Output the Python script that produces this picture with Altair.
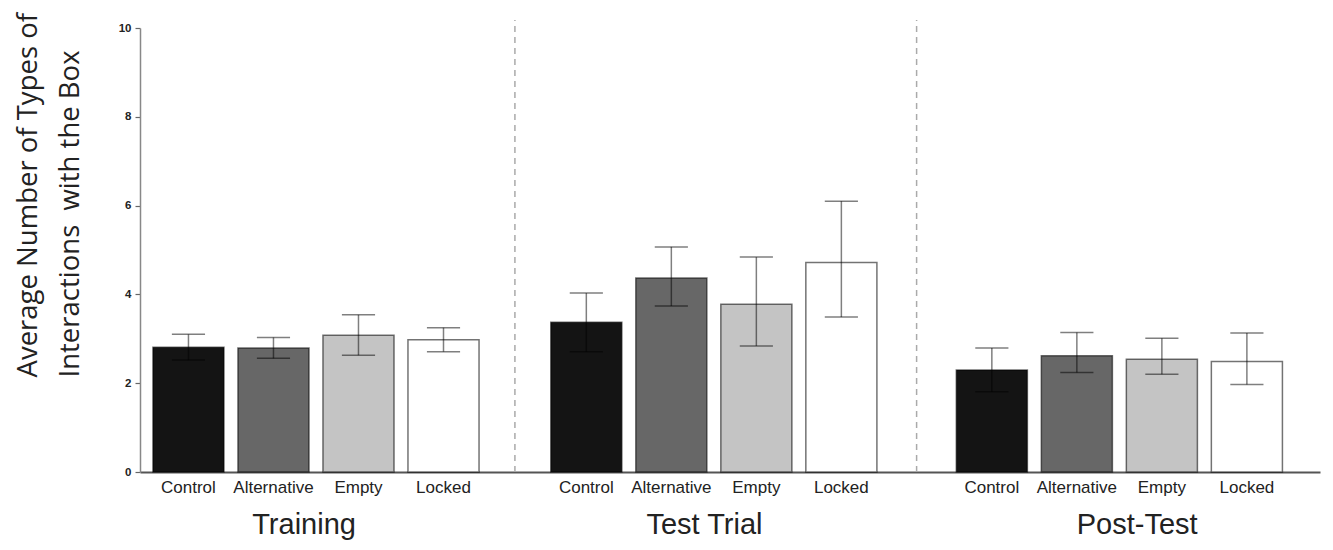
import altair as alt
import pandas as pd

# ---- data ----
phases = ["Training", "Test Trial", "Post-Test"]
conditions = ["Control", "Alternative", "Empty", "Locked"]

mean_training = [2.81, 2.79, 3.08, 2.98]
mean_test = [3.37, 4.37, 3.78, 4.72]
mean_post = [2.30, 2.62, 2.54, 2.49]

hi_training = [3.10, 3.03, 3.54, 3.25]
lo_training = [2.52, 2.56, 2.63, 2.71]
hi_test = [4.03, 5.07, 4.84, 6.10]
lo_test = [2.71, 3.74, 2.84, 3.49]
hi_post = [2.79, 3.14, 3.01, 3.13]
lo_post = [1.81, 2.24, 2.20, 1.97]

y_ticks = [0, 2, 4, 6, 8, 10]
y_title = ["Average Number of Types of", "Interactions \u00a0with the Box"]

# ---- layout (in x-scale units; 1 unit = one bar slot) ----
GROUP_START = [0.57, 5.25, 10.02]
HALF_BAR = 0.418
HALF_CAP = 0.195
PHASE_NUDGE = [-0.14, -0.11, 0.21]
X_MAX = 13.88

rows = []
for gi, (phase, means, his, los) in enumerate(zip(
        phases,
        [mean_training, mean_test, mean_post],
        [hi_training, hi_test, hi_post],
        [lo_training, lo_test, lo_post])):
    for ci, cond in enumerate(conditions):
        pos = GROUP_START[gi] + ci
        rows.append(dict(phase=phase, cond=cond, mean=means[ci], hi=his[ci], lo=los[ci],
                         pos=pos, x0=pos - HALF_BAR, x1=pos + HALF_BAR,
                         c0=pos - HALF_CAP, c1=pos + HALF_CAP))
df = pd.DataFrame(rows)

phase_df = pd.DataFrame({
    "phase": phases,
    "center": [GROUP_START[i] + 1.5 + PHASE_NUDGE[i] for i in range(3)],
})
div_df = pd.DataFrame({
    "pos": [(GROUP_START[i] + 3 + GROUP_START[i + 1]) / 2 for i in range(2)],
})

x_scale = alt.Scale(domain=[0, X_MAX], nice=False, zero=False)
y_scale = alt.Scale(domain=[0, 10], nice=False)

y_axis = alt.Axis(
    values=y_ticks, grid=False, tickSize=5, tickColor="#666", tickWidth=1.2,
    domainColor="#888", domainWidth=1.5,
    labelFont="Liberation Sans", labelFontSize=11.5, labelFontWeight="bold",
    labelColor="#222", labelPadding=4,
    title=y_title, titleFont="Open Sans", titleFontSize=27.5, titleFontWeight="normal",
    titleColor="#222", titleAngle=270, titleAlign="left", titleBaseline="top",
    titleX=-126, titleY=349, titleLineHeight=42,
)
x_axis = alt.Axis(labels=False, ticks=False, grid=False, title="",
                  domainColor="#555", domainWidth=2)

bars = alt.Chart(df).mark_bar(stroke="black", strokeOpacity=0.55, strokeWidth=1.5).encode(
    x=alt.X("x0:Q", scale=x_scale, axis=x_axis),
    x2="x1:Q",
    y=alt.Y("mean:Q", scale=y_scale, axis=y_axis),
    y2=alt.datum(0),
    color=alt.Color("cond:N", scale=alt.Scale(domain=conditions,
                    range=["#141414", "#676767", "#c4c4c4", "#ffffff"]), legend=None),
)

dividers = alt.Chart(div_df).mark_rule(color="#aaa", strokeWidth=1.5, strokeDash=[6, 5]).encode(
    x=alt.X("pos:Q", scale=x_scale, axis=x_axis),
    y=alt.datum(0),
    y2=alt.datum(10.18),
)

err = alt.Chart(df).mark_rule(color="black", opacity=0.5, strokeWidth=1.5).encode(
    x=alt.X("pos:Q", scale=x_scale, axis=x_axis),
    y=alt.Y("lo:Q", scale=y_scale, axis=y_axis),
    y2="hi:Q",
)
cap_hi = alt.Chart(df).mark_rule(color="black", opacity=0.5, strokeWidth=1.5).encode(
    x=alt.X("c0:Q", scale=x_scale, axis=x_axis), x2="c1:Q",
    y=alt.Y("hi:Q", scale=y_scale, axis=y_axis),
)
cap_lo = alt.Chart(df).mark_rule(color="black", opacity=0.5, strokeWidth=1.5).encode(
    x=alt.X("c0:Q", scale=x_scale, axis=x_axis), x2="c1:Q",
    y=alt.Y("lo:Q", scale=y_scale, axis=y_axis),
)

cond_labels = alt.Chart(df).mark_text(font="Liberation Sans", fontSize=17, color="#222",
                                       baseline="middle", dy=16).encode(
    x=alt.X("pos:Q", scale=x_scale, axis=x_axis),
    y=alt.datum(0),
    text="cond:N",
)
phase_labels = alt.Chart(phase_df).mark_text(font="Liberation Sans", fontSize=29, color="#222",
                                              baseline="alphabetic", dy=62).encode(
    x=alt.X("center:Q", scale=x_scale, axis=x_axis),
    y=alt.datum(0),
    text="phase:N",
)

chart = alt.layer(bars, dividers, err, cap_hi, cap_lo, cond_labels, phase_labels).properties(
    width=1180, height=444,
    padding={"left": 132, "top": 20, "right": 5, "bottom": 70},
    autosize=alt.AutoSizeParams(type="none"),
    background="white",
).configure_view(stroke=None)

chart.save("out.html", embed_options={"renderer": "svg", "actions": False})
